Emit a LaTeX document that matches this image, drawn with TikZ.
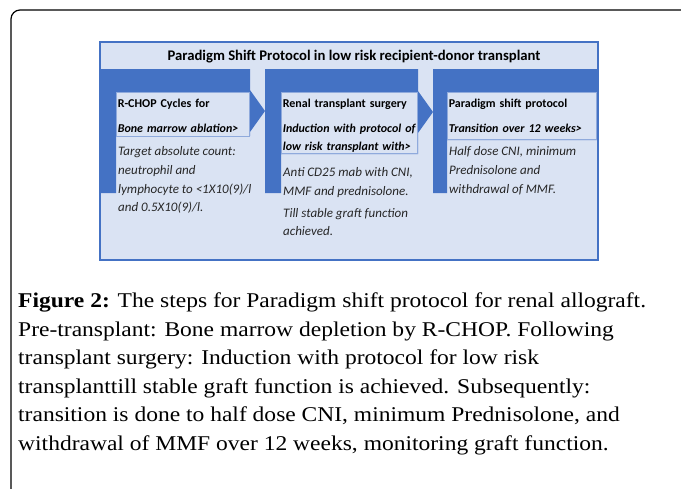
\documentclass[tikz,border=0pt]{standalone}
\usepackage{fontspec}
\setmainfont{Carlito}
\newfontfamily\capfont[FakeStretch=1.12]{Liberation Serif}
\definecolor{accent}{HTML}{4472C4}
\definecolor{paleblue}{HTML}{DAE3F3}
\definecolor{boxline}{HTML}{8FAADC}
\definecolor{inktext}{HTML}{262626}
\newcommand{\topstrut}{\rule{0pt}{15pt}}
\newcommand{\lowstrut}[1]{\rule[-#1]{0pt}{0pt}}

\begin{document}
\begin{tikzpicture}[x=1pt, y=-1pt,
    panel/.style={draw=accent, fill=paleblue, line width=1.5pt},
    chevron/.style={fill=accent},
    headbox/.style={draw=boxline, fill=paleblue, line width=0.6pt, anchor=north west,
      inner xsep=1.5pt, inner ysep=0pt, align=left, text=black,
      font=\bfseries\fontsize{12}{18}\selectfont},
    bodytext/.style={anchor=north west, inner sep=0pt, align=left, text=inktext,
      font=\fontsize{13}{18.7}\selectfont\itshape}
  ]
    \useasboundingbox (0,0) rectangle (681,488);
    \clip (0,0) rectangle (681,488);

    % page frame
    \draw[line width=1.2pt, rounded corners=9pt] (700,10) -- (11,10) -- (11,500);

    % diagram panel
    \draw[panel] (100,42) rectangle (598,260);
    \node[font=\bfseries\fontsize{14.7}{17}\selectfont, text=black] (title) at (354,57)
      {Paradigm Shift Protocol in low risk recipient-donor transplant};

    % blue process shapes
    \fill[chevron] (100,69) -- (250,69) -- (250,90) -- (265,111) -- (250,132)
      -- (250,136) -- (116,136) -- (116,193) -- (100,193) -- cycle;
    \fill[chevron] (265,69) -- (418,69) -- (418,91) -- (433,112) -- (418,133)
      -- (418,154) -- (281,154) -- (281,193) -- (265,193) -- cycle;
    \fill[chevron] (433,69) -- (598,69) -- (598,140) -- (447,140) -- (447,193)
      -- (433,193) -- cycle;

    % step headers
    \node[headbox, text width=130pt] (rchop) at (116,92)
      {\topstrut R-CHOP Cycles for\\[7pt]\textit{Bone marrow ablation>}\lowstrut{3.5pt}};
    \node[headbox, text width=133pt] (surgery) at (281,92)
      {\topstrut Renal transplant surgery\\[7pt]\mbox{\textit{Induction with protocol of}}\\
      \textit{low risk transplant with>}\lowstrut{3pt}};
    \node[headbox, text width=146pt] (shift) at (447,92)
      {\topstrut Paradigm shift protocol\\[7pt]\textit{Transition over 12 weeks>}\lowstrut{7pt}};

    % step details
    \node[bodytext] (rchopnote) at (118,146.5)
      {Target absolute count:\\neutrophil and\\lymphocyte to <1X10(9)/l\\and 0.5X10(9)/l.};
    \node[bodytext] (surgerynote) at (283,167.5)
      {Anti CD25 mab with CNI,\\MMF and prednisolone.\\[3pt]Till stable graft function\\achieved.};
    \node[bodytext] (shiftnote) at (449,146.5)
      {Half dose CNI, minimum\\Prednisolone and\\withdrawal of MMF.};

    % caption
    \node[anchor=north west, inner sep=0pt, align=left,
      font=\capfont\fontsize{21}{28.5}\selectfont] (caption) at (18,293)
      {\textbf{Figure 2:} The steps for Paradigm shift protocol for renal allograft.\\
      Pre-transplant: Bone marrow depletion by R-CHOP. Following\\
      transplant surgery: Induction with protocol for low risk\\
      transplanttill stable graft function is achieved. Subsequently:\\
      transition is done to half dose CNI, minimum Prednisolone, and\\
      withdrawal of MMF over 12 weeks, monitoring graft function.};
  \end{tikzpicture}
\end{document}
